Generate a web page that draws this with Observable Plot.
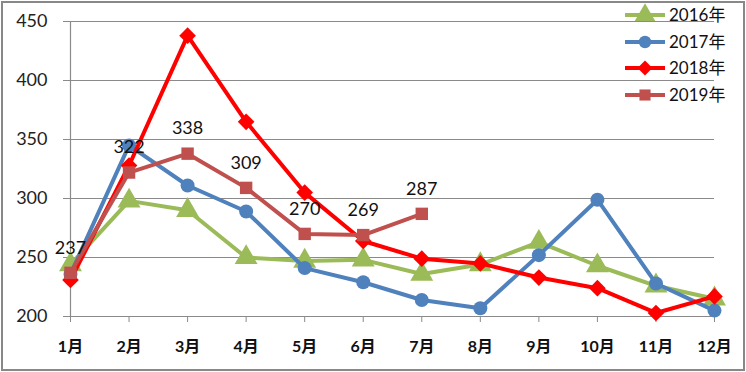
<!DOCTYPE html>
<html><head><meta charset="utf-8">
<script src="https://cdn.jsdelivr.net/npm/d3@7"></script>
<script src="https://cdn.jsdelivr.net/npm/@observablehq/plot@0.6"></script>
<style>
body{margin:0;background:#fff;}
#wrap{position:relative;width:746px;height:372px;font-family:Lato,"Noto Sans CJK SC",sans-serif;}
#frame{position:absolute;left:1px;top:1px;width:740px;height:366px;border:2px solid #888;pointer-events:none;}
#legend{position:absolute;left:620px;top:0;}
.item{position:absolute;left:0;width:120px;height:26px;}
.item svg{position:absolute;left:0;top:0;}
.item span{position:absolute;left:49px;top:3px;font-size:17px;line-height:20px;color:#111;white-space:nowrap;}
</style></head>
<body><div id="wrap"><div id="chart"></div><div id="legend"></div><div id="frame"></div></div>
<script>
const months = [1,2,3,4,5,6,7,8,9,10,11,12];
const monthLabels = ["1月","2月","3月","4月","5月","6月","7月","8月","9月","10月","11月","12月"];
const seriesNames = ["2016年","2017年","2018年","2019年"];
const s2016 = [244,298,290,250,247,248,236,244,263,243,226,215];
const s2017 = [236,345,311,289,241,229,214,207,252,299,228,205];
const s2018 = [231,328,438,365,305,264,249,245,233,224,203,217];
const s2019 = [237,322,338,309,270,269,287];
const colors = ["#9BBB59","#4F81BD","#FF0000","#C0504D"];
const symbols = ["triangle","circle","diamond2","square"];
const sizes = [8.5,7,7.5,7];

const all = [s2016,s2017,s2018,s2019];
const rows = [];
all.forEach((arr,si)=>arr.forEach((v,i)=>rows.push({series:seriesNames[si], month:months[i], value:v})));

const marks = [
  Plot.gridY([200,250,300,350,400,450],{stroke:"#8a8a8a",strokeOpacity:1,strokeWidth:1.2}),
  Plot.ruleX([1],{stroke:"#8a8a8a",strokeWidth:1.2}),
  Plot.axisY({ticks:[200,250,300,350,400,450],label:null,tickSize:7,tickPadding:16,stroke:"#8a8a8a",fontSize:18,fill:"#222"}),
  Plot.axisX({ticks:months,label:null,tickSize:6,tickPadding:18,stroke:"#8a8a8a",fontSize:16,fontWeight:"bold",fill:"#111",tickFormat:(d)=>monthLabels[d-1]})
];
seriesNames.forEach((name,si)=>{
  const data = rows.filter(r=>r.series===name);
  marks.push(Plot.line(data,{x:"month",y:"value",stroke:colors[si],strokeWidth:4,strokeLinejoin:"round",strokeLinecap:"round"}));
  marks.push(Plot.dot(data,{x:"month",y:"value",symbol:()=>symbols[si],fill:colors[si],stroke:"none",r:sizes[si]}));
});
marks.push(Plot.text(rows.filter(r=>r.series==="2019年"),{x:"month",y:"value",text:d=>String(d.value),dy:-25,fontSize:18,fill:"#111"}));

const chart = Plot.plot({
  width:746,height:372,
  marginLeft:70,marginRight:32,marginTop:21,marginBottom:56,
  style:{fontFamily:'Lato,"Noto Sans CJK SC",sans-serif',background:"#fff"},
  x:{type:"linear",domain:[1,12],axis:null},
  y:{domain:[200,450],axis:null},
  symbol:{type:"identity"},
  marks
});
document.getElementById("chart").appendChild(chart);

// legend
const lg = document.getElementById("legend");
const rowTops = [2,29,55,82];
seriesNames.forEach((name,si)=>{
  const div = document.createElement("div");
  div.className="item"; div.style.top = rowTops[si]+"px";
  const svg = d3.create("svg").attr("width",48).attr("height",26);
  svg.append("line").attr("x1",5).attr("x2",45).attr("y1",13).attr("y2",13).attr("stroke",colors[si]).attr("stroke-width",4);
  const sym = {triangle:d3.symbolTriangle,circle:d3.symbolCircle,diamond2:d3.symbolDiamond2,square:d3.symbolSquare}[symbols[si]];
  svg.append("path").attr("d",d3.symbol(sym, Math.PI*sizes[si]*sizes[si]*0.8)()).attr("transform","translate(25,13)").attr("fill",colors[si]);
  div.appendChild(svg.node());
  const sp = document.createElement("span"); sp.textContent = name; div.appendChild(sp);
  lg.appendChild(div);
});
</script></body></html>
